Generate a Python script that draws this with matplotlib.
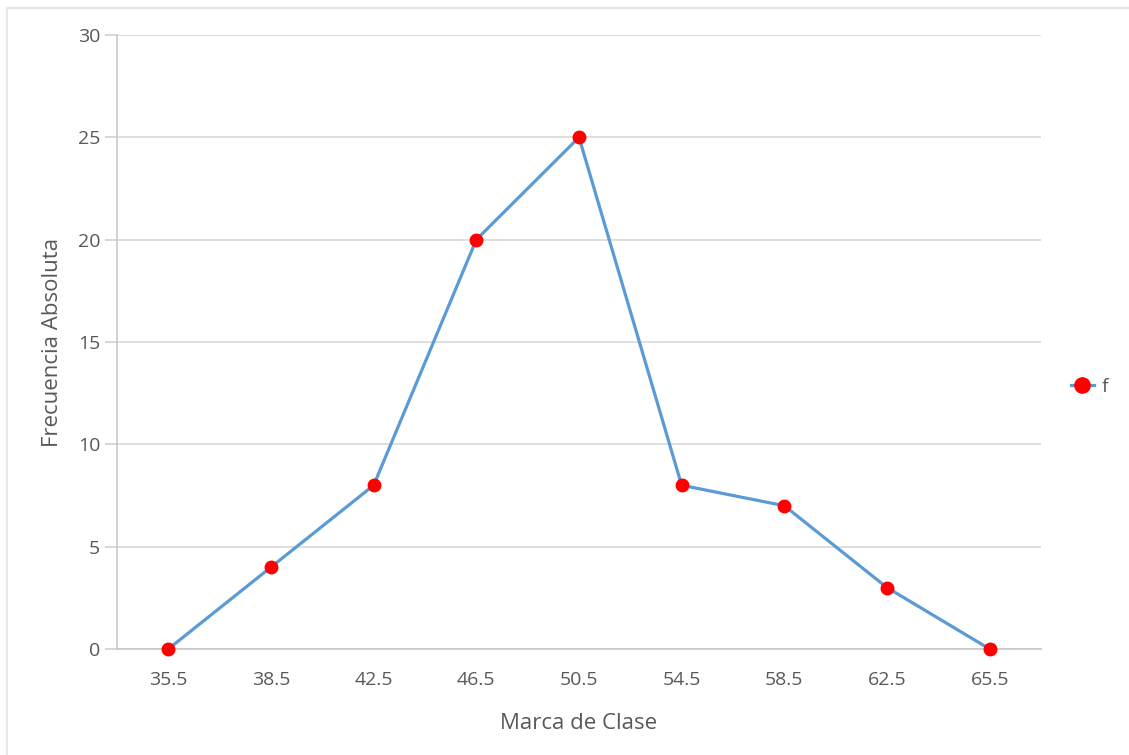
import matplotlib.pyplot as plt
from matplotlib.lines import Line2D

plt.rcParams['font.family'] = ['Open Sans', 'DejaVu Sans']

# marcas de clase y frecuencias absolutas
marcas = ['35.5', '38.5', '42.5', '46.5', '50.5', '54.5', '58.5', '62.5', '65.5']
frecuencias = [0, 4, 8, 20, 25, 8, 7, 3, 0]
y_ticks = [0, 5, 10, 15, 20, 25, 30]

linea = '#5b9bd5'
punto = '#ff0000'
texto = '#595959'


def run():
    fig = plt.figure(figsize=(11.29, 7.55), dpi=100)

    # marco exterior gris claro
    fig.add_artist(Line2D([7 / 1129, 7 / 1129], [0, 1 - 8 / 755], color='#e6e6e6', lw=1.5))
    fig.add_artist(Line2D([7 / 1129, 1], [1 - 8 / 755, 1 - 8 / 755], color='#e6e6e6', lw=1.5))

    ax = fig.add_axes([117 / 1129, 1 - 649 / 755, (1041 - 117) / 1129, (649 - 35) / 755])
    x = list(range(len(marcas)))
    ax.plot(x, frecuencias, color=linea, lw=2.3, marker='o', ms=9,
            mfc=punto, mec=punto, zorder=3, clip_on=False)

    ax.set_xlim(-0.5, len(marcas) - 0.5)
    ax.set_ylim(0, 30)
    ax.set_xticks(x)
    ax.set_xticklabels(marcas)
    ax.set_yticks(y_ticks)

    ax.grid(axis='y', color='#d9d9d9', lw=1.2)
    ax.set_axisbelow(True)
    for s in ['top', 'right']:
        ax.spines[s].set_visible(False)
    ax.spines['left'].set_color('#c8c8c8')
    ax.spines['bottom'].set_color('#c8c8c8')
    ax.spines['left'].set_linewidth(1.2)
    ax.spines['bottom'].set_linewidth(1.2)

    ax.tick_params(axis='x', length=0, pad=16, labelsize=14, labelcolor=texto)
    ax.tick_params(axis='y', length=9, width=1.2, color='#d0d0d0', pad=3,
                   labelsize=14, labelcolor=texto)

    ax.set_xlabel('Marca de Clase', fontsize=16, color=texto, labelpad=17)
    ax.set_ylabel('Frecuencia Absoluta', fontsize=16, color=texto, labelpad=11)

    handle = Line2D([], [], color=linea, lw=2.3, marker='o', ms=11,
                    mfc=punto, mec=punto)
    fig.legend([handle], ['f'], loc='center left',
               bbox_to_anchor=(1053 / 1129, 1 - 387 / 755), frameon=False,
               handlelength=1.2, handletextpad=0.4, fontsize=14,
               labelcolor=texto)

    fig.savefig('out.png', dpi=100, facecolor='white')


if __name__ == "__main__":
    run()
